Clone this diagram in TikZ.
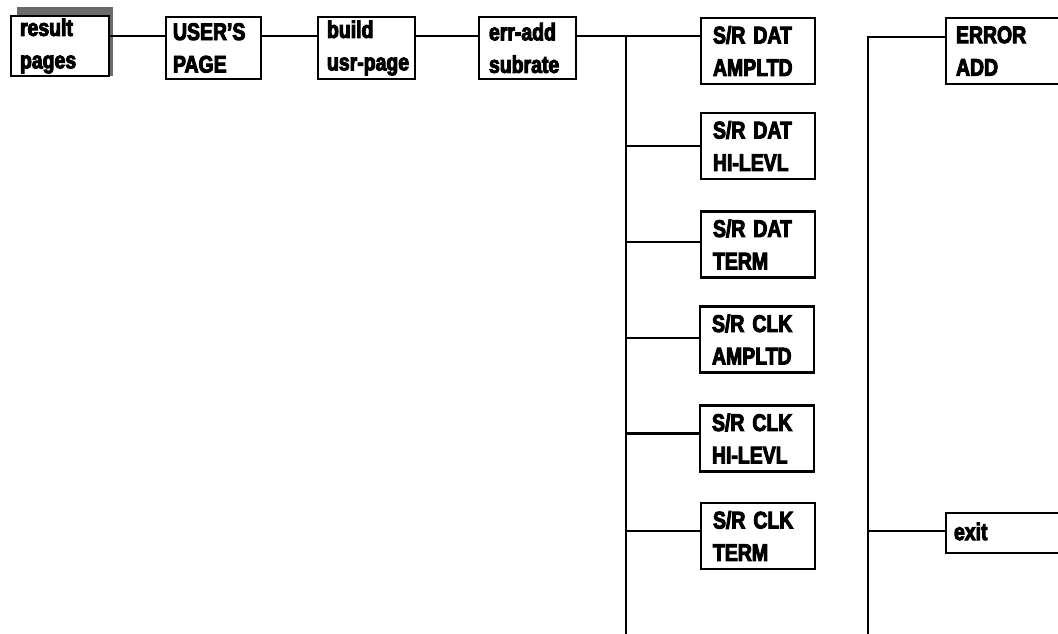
\documentclass[tikz,border=0pt]{standalone}
\usepackage{fontspec}
\setmainfont{Liberation Sans}[FakeStretch=0.81, BoldFeatures={FakeBold=4}]
\begin{document}
\begin{tikzpicture}[x=1pt,y=-1pt,
  box/.style={draw, line width=2.8pt, fill=white, align=left, inner ysep=0pt,
    font=\bfseries\fontsize{24}{29.5}\selectfont,
    execute at begin node={\hyphenpenalty=10000 \exhyphenpenalty=10000 \vspace*{3pt}}},
  topbox/.style={box, minimum height=62pt},
  srbox/.style={box, minimum width=114pt, minimum height=66pt, text width=90pt, inner xsep=12pt},
  conn/.style={line width=2.4pt}]
\useasboundingbox (0,0) rectangle (1058,634);
\clip (0,0) rectangle (1058,634);
% shadow of the first box
\fill[black!58] (17,7) rectangle (113,76);
% top row
\node[box, minimum width=98pt, minimum height=60pt, text width=80pt, inner xsep=9pt] (res) at (60,46) {result\\pages};
\node[topbox, minimum width=95pt, text width=81pt, inner xsep=7pt] (user) at (213.5,48) {USER'S\\PAGE};
\node[topbox, minimum width=97pt, text width=79pt, inner xsep=9pt] (build) at (366.5,48) {build\\usr-page};
\node[topbox, minimum width=97pt, text width=77pt, inner xsep=10pt] (errad) at (527.5,48) {err-add\\subrate};
% S/R column
\node[srbox] (d1) at (758,51) {S/R DAT\\AMPLTD};
\node[srbox] (d2) at (758,146) {S/R DAT\\HI-LEVL};
\node[srbox] (d3) at (758,244.5) {S/R DAT\\TERM};
\node[srbox] (d4) at (757,339.5) {S/R CLK\\AMPLTD};
\node[srbox] (d5) at (757,438.5) {S/R CLK\\HI-LEVL};
\node[srbox] (d6) at (758,536) {S/R CLK\\TERM};
% right column
\node[box, minimum width=154pt, minimum height=66pt, text width=134pt, inner xsep=10pt] (err) at (1023,51) {ERROR\\ADD};
\node[box, minimum width=154pt, minimum height=40pt, text width=138pt, inner xsep=8pt] (exit) at (1023,533) {exit};
% connectors
\coordinate (row) at (0,36);
\draw[conn] (res.east |- row) -- (user.west |- row);
\draw[conn] (user.east |- row) -- (build.west |- row);
\draw[conn] (build.east |- row) -- (errad.west |- row);
\draw[conn] (errad.east |- row) -- (d1.west |- row);
\coordinate (b1top) at (626,36);
\coordinate (b1bot) at (626,640);
\draw[conn] (b1top) -- (b1bot);
\draw[conn] (b1top |- d2.west) -- (d2.west);
\draw[conn] (b1top |- d3.west) ++(0,-2.5) -- ([yshift=2.5pt]d3.west);
\draw[conn] (b1top |- d4.west) ++(0,-1.5) -- ([yshift=1.5pt]d4.west);
\draw[conn] (b1top |- d5.west) ++(0,-5) -- ([yshift=5pt]d5.west);
\draw[conn] (b1top |- d6.west) ++(0,-5) -- ([yshift=5pt]d6.west);
\coordinate (b2top) at (868,37);
\coordinate (b2bot) at (868,640);
\draw[conn] (b2bot) -- (b2top) -- (err.west |- b2top);
\draw[conn] (b2top |- exit.west) ++(0,-2) -- ([yshift=2pt]exit.west);
\end{tikzpicture}
\end{document}
